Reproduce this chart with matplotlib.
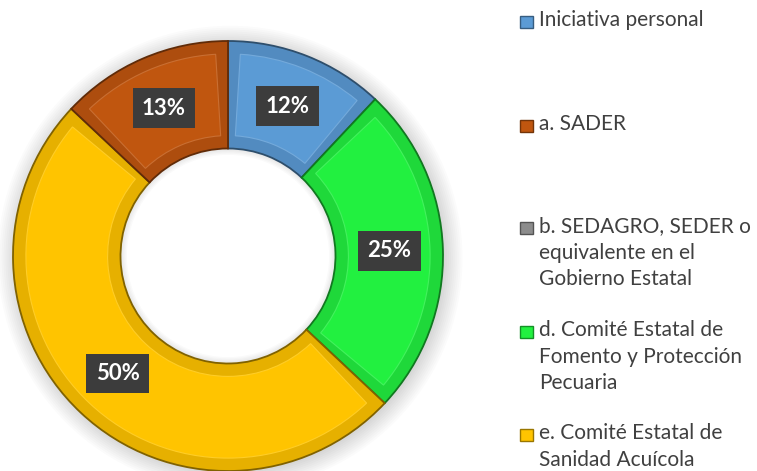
import numpy as np
import matplotlib.pyplot as plt
from matplotlib.patches import Wedge, Circle, Rectangle
from matplotlib import colors as mcolors

plt.rcParams['font.family'] = ['Lato', 'DejaVu Sans']

# data (percent of responses)
categories = [
    "Iniciativa personal",
    "a. SADER",
    "b. SEDAGRO, SEDER o\nequivalente en el\nGobierno Estatal",
    "d. Comité Estatal de\nFomento y Protección\nPecuaria",
    "e. Comité Estatal de\nSanidad Acuícola",
]
values = [12, 13, 0, 25, 50]
slice_colors = ["#5B9BD5", "#C0560F", "#8C8C8C", "#22F040", "#FFC400"]
# order in which the slices run clockwise from 12 o'clock
ring_order = [0, 3, 4, 1]


def shade(c, f):
    r, g, b = mcolors.to_rgb(c)
    if f < 1:
        return (r * f, g * f, b * f)
    return tuple(x + (1 - x) * (f - 1) for x in (r, g, b))


W, H = 757, 471
fig = plt.figure(figsize=(W / 100, H / 100), dpi=100)
fig.patch.set_facecolor("white")

cx, cy, R = 228, 256, 215
L = 1.1
ax = fig.add_axes([(cx - L * R) / W, (H - cy - L * R) / H, 2 * L * R / W, 2 * L * R / H])

# soft shadow around the ring
for k in range(10):
    ax.add_patch(Circle((0.01, -0.01), 1.0 + 0.009 * k, color="#000000", alpha=0.016, lw=0, zorder=0))
ax.add_patch(Circle((0, 0), 0.5, color="white", lw=0, zorder=1))
# faint shadow inside the hole
for k in range(5):
    ax.add_patch(Wedge((0, 0), 0.5, 0, 360, width=0.006 * (k + 1), color="#000000",
                       alpha=0.02, lw=0, zorder=1.5))

vals = [values[i] for i in ring_order]
cols = [slice_colors[i] for i in ring_order]
wedges, _ = ax.pie(vals, colors=cols, startangle=90, counterclock=False, radius=1.0,
                   wedgeprops=dict(width=0.5, linewidth=0))

for w, c in zip(wedges, cols):
    w.set_facecolor(shade(c, 0.9))
    w.set_edgecolor(shade(c, 0.5))
    w.set_linewidth(1.3)
    w.set_zorder(2)
    # raised inner plate for the bevel look
    inset = 3.5
    ax.add_patch(Wedge((0, 0), 0.94, w.theta1 + inset, w.theta2 - inset, width=0.38,
                       facecolor=c, edgecolor=shade(c, 1.15), linewidth=0.8, zorder=3))

# pie() resets the limits, so set them afterwards
ax.set_xlim(-L, L)
ax.set_ylim(-L, L)
ax.set_aspect("equal")
ax.axis("off")

# percentage labels on the middle of the ring
for w, v in zip(wedges, vals):
    ang = np.deg2rad((w.theta1 + w.theta2) / 2)
    r = 0.75
    ax.text(r * np.cos(ang), r * np.sin(ang), f"{v}%", ha="center", va="center",
            color="white", fontsize=16, fontweight="bold", zorder=7,
            bbox=dict(boxstyle="square,pad=0.42", facecolor="#3C3C3C", edgecolor="none"))

# legend drawn by hand
leg_y = [22, 126, 228, 332, 435]
for name, c, y in zip(categories, slice_colors, leg_y):
    fig.patches.append(Rectangle((520 / W, (H - y - 6) / H), 13 / W, 12 / H,
                                 transform=fig.transFigure, facecolor=c,
                                 edgecolor=shade(c, 0.6), linewidth=1.0))
    fig.text(539 / W, (H - y + 12) / H, name, ha="left", va="top", fontsize=15,
             color="#404040", linespacing=1.42)

fig.savefig("out.png", dpi=100, facecolor="white")
